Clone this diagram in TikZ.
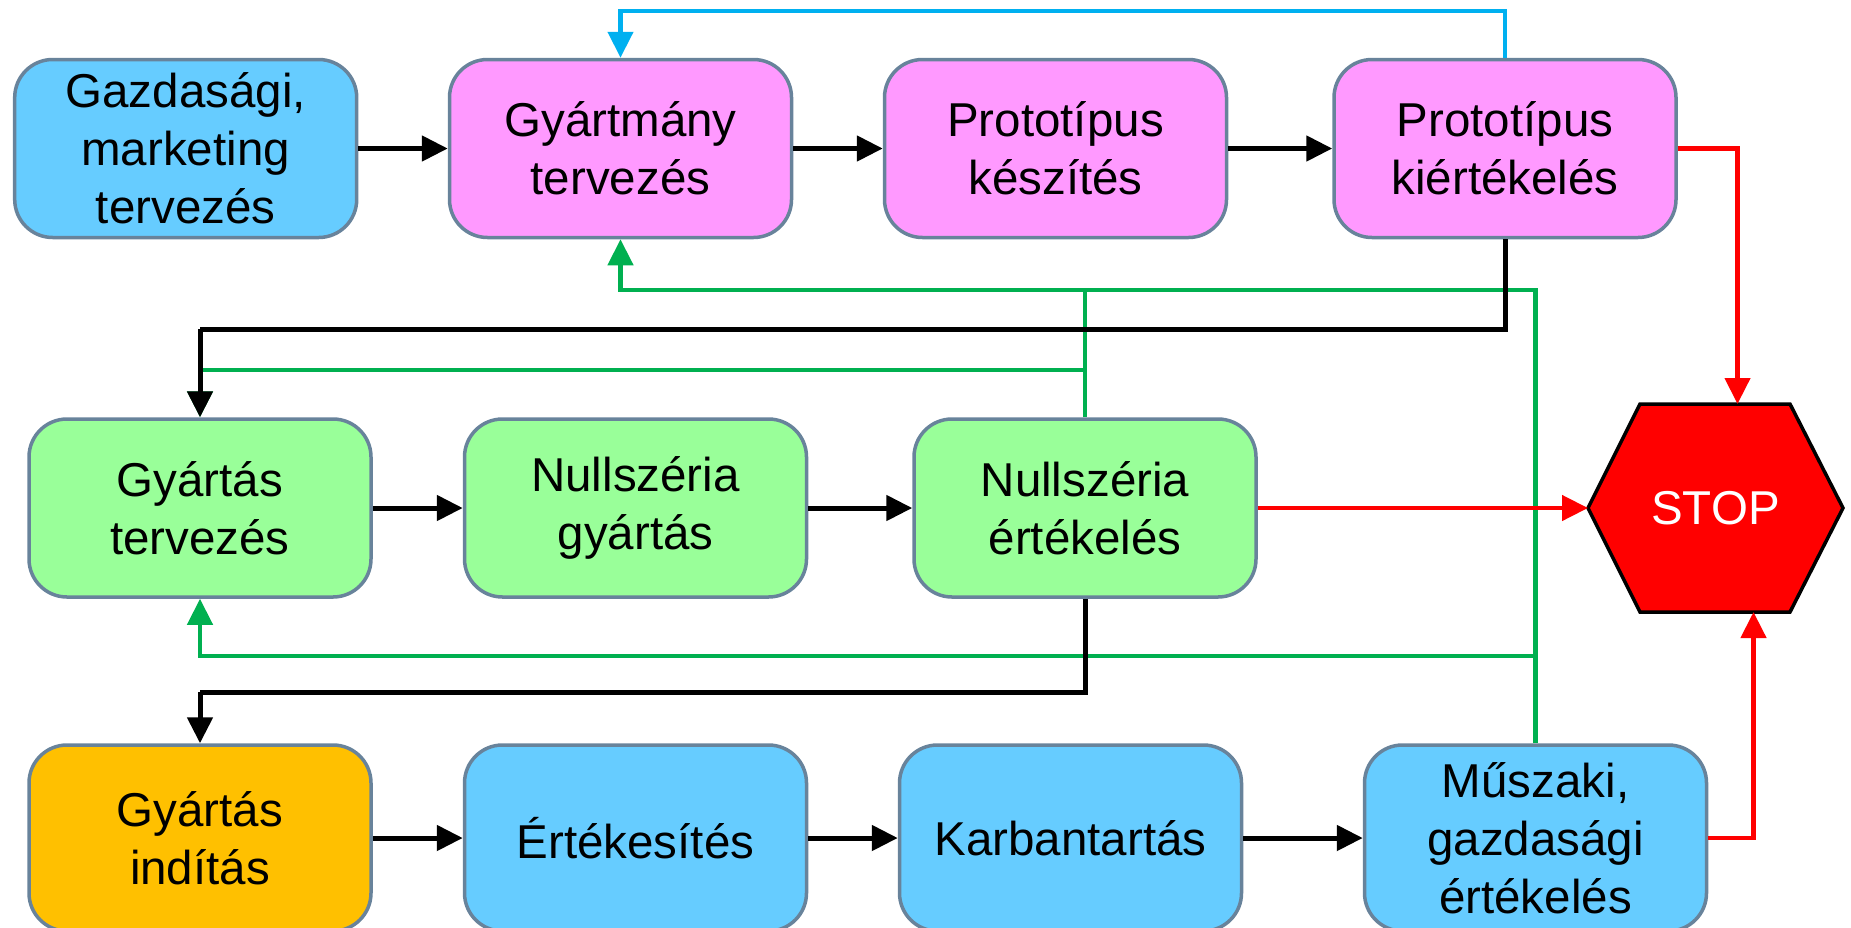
\documentclass[tikz,border=0pt]{standalone}
\usepackage{fontspec}
\setmainfont{Liberation Sans}
\usetikzlibrary{arrows.meta,calc}
\definecolor{boxline}{RGB}{104,131,155}
\definecolor{fillblue}{RGB}{102,204,255}
\definecolor{fillpink}{RGB}{255,153,255}
\definecolor{fillgreen}{RGB}{153,255,153}
\definecolor{fillorange}{RGB}{255,192,0}
\definecolor{lineblue}{RGB}{0,176,240}
\definecolor{linegreen}{RGB}{0,176,80}
\definecolor{linered}{RGB}{255,0,0}
\newcommand\lblfont{\fontsize{47.5}{58}\selectfont}
\tikzset{
  procbox/.style={rounded corners=38pt, draw=boxline, line width=3.5pt,
    minimum width=342pt, minimum height=178pt, align=center,
    font=\lblfont, inner sep=0pt},
  lastrow/.style={procbox, minimum height=186pt},
  tipA/.style={-{Triangle[length=26pt,width=25pt]}},
  blk/.style={draw=black, line width=5pt, tipA},
  blkline/.style={draw=black, line width=5pt},
  grn/.style={draw=linegreen, line width=4.5pt, tipA},
  grnline/.style={draw=linegreen, line width=4.5pt},
  blu/.style={draw=lineblue, line width=4.5pt, tipA},
  rd/.style={draw=linered, line width=4.5pt, tipA},
  stopshape/.style={fill=linered, draw=black, line width=3.5pt, line join=miter},
  stoptext/.style={text=white, font=\lblfont, minimum width=255pt,
    minimum height=208pt, inner sep=0pt, outer sep=0pt}
}
\begin{document}
\begin{tikzpicture}[x=1pt,y=-1pt]
\useasboundingbox (0,0) rectangle (1851,927);

% first row: product design
\node[procbox, fill=fillblue] (b1) at (185.7,148.5) {Gazdasági,\\marketing\\tervezés};
\node[procbox, fill=fillpink] (b2) at (620.5,148.5) {Gyártmány\\tervezés};
\node[procbox, fill=fillpink] (b3) at (1055.5,148.5) {Prototípus\\készítés};
\node[procbox, fill=fillpink] (b4) at (1505,148.5) {Prototípus\\kiértékelés};

% second row: production design
\node[procbox, fill=fillgreen] (c1) at (200,508) {Gyártás\\tervezés};
\node[procbox, fill=fillgreen] (c2) at (635.5,508) {Nullszéria\\gyártás};
\node[procbox, fill=fillgreen] (c3) at (1085,508) {Nullszéria\\értékelés};

% third row: production and use
\node[lastrow, fill=fillorange] (d1) at (200,838) {Gyártás\\indítás};
\node[lastrow, fill=fillblue] (d2) at (635.5,838) {Értékesítés};
\node[lastrow, fill=fillblue] (d3) at (1070.5,838) {Karbantartás};
\node[lastrow, fill=fillblue] (d4) at (1535.5,838) {Műszaki,\\gazdasági\\értékelés};

% stop sign
\draw[stopshape] (1588,508) -- (1640,404) -- (1790,404) -- (1843,508)
  -- (1790,612) -- (1640,612) -- cycle;
\node[stoptext] (stop) at (1715.5,508) {STOP};

% routing points
\coordinate (gtop) at (620.5,290);
\coordinate (gmid) at (1085,370);
\coordinate (gbot) at (1535.5,656);
\coordinate (ktop) at (200,329);
\coordinate (kbot) at (200,692);

% forward flow
\draw[blk] (b1.east) -- (b2.west);
\draw[blk] (b2.east) -- (b3.west);
\draw[blk] (b3.east) -- (b4.west);
\draw[blk] (c1.east) -- (c2.west);
\draw[blk] (c2.east) -- (c3.west);
\draw[blk] (d1.east) -- (d2.west);
\draw[blk] (d2.east) -- (d3.west);
\draw[blk] (d3.east) -- (d4.west);

% feedback loops
\draw[blu] (b4.north) -- ++(0,-47) -| (b2.north);
\draw[grn] (d4.north) |- (gtop) -- (b2.south);
\draw[grnline] (c3.north) -- (c3.north |- gtop);
\draw[grn] (gmid) -| (c1.north);
\draw[grn] (gbot) -| (c1.south);

% hand-over to the next phase
\draw[blkline] (b4.south) |- (ktop);
\draw[blk] (ktop) -- (c1.north);
\draw[blkline] (c3.south) |- (kbot);
\draw[blk] (kbot) -- (d1.north);

% stop conditions
\draw[rd] (b4.east) -| ($(stop.north)+(22,0)$);
\draw[rd] (c3.east) -- (stop.west);
\draw[rd] (d4.east) -| ($(stop.south)+(38,0)$);
\end{tikzpicture}
\end{document}
